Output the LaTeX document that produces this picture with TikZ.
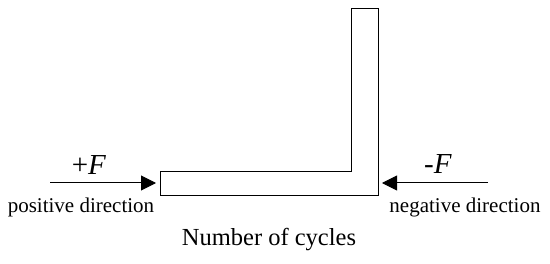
\documentclass[tikz,border=0pt]{standalone}
\usepackage{fontspec}
\setmainfont{Liberation Serif}
\usetikzlibrary{arrows.meta}
\begin{document}
\begin{tikzpicture}[x=1pt,y=1pt,
  force/.style={line width=1pt,-{Triangle[length=15pt,width=15pt]}},
  lbl/.style={inner sep=0pt,font=\fontsize{21}{25}\selectfont},
  flbl/.style={inner sep=0pt,font=\fontsize{29}{33}\selectfont}]
\useasboundingbox (0,0) rectangle (550,263);
\draw[line width=1pt] (160,67) -- (378,67) -- (378,254) -- (351,254) -- (351,91) -- (160,91) -- cycle;
\coordinate (ltail) at (50,80);
\coordinate (ltip) at (156,80);
\coordinate (rtail) at (488,80);
\coordinate (rtip) at (382,80);
\draw[force] (ltail) -- (ltip);
\draw[force] (rtail) -- (rtip);
\node[flbl] (pf) at (89,98) {+\textit{F}};
\node[flbl] (nf) at (438,99) {\textit{-F}};
\node[lbl] (pd) at (81,56) {positive direction};
\node[lbl] (nd) at (465,56) {negative direction};
\node[lbl,font=\fontsize{24.5}{28}\selectfont] (nc) at (269,23) {Number of cycles};
\end{tikzpicture}
\end{document}
